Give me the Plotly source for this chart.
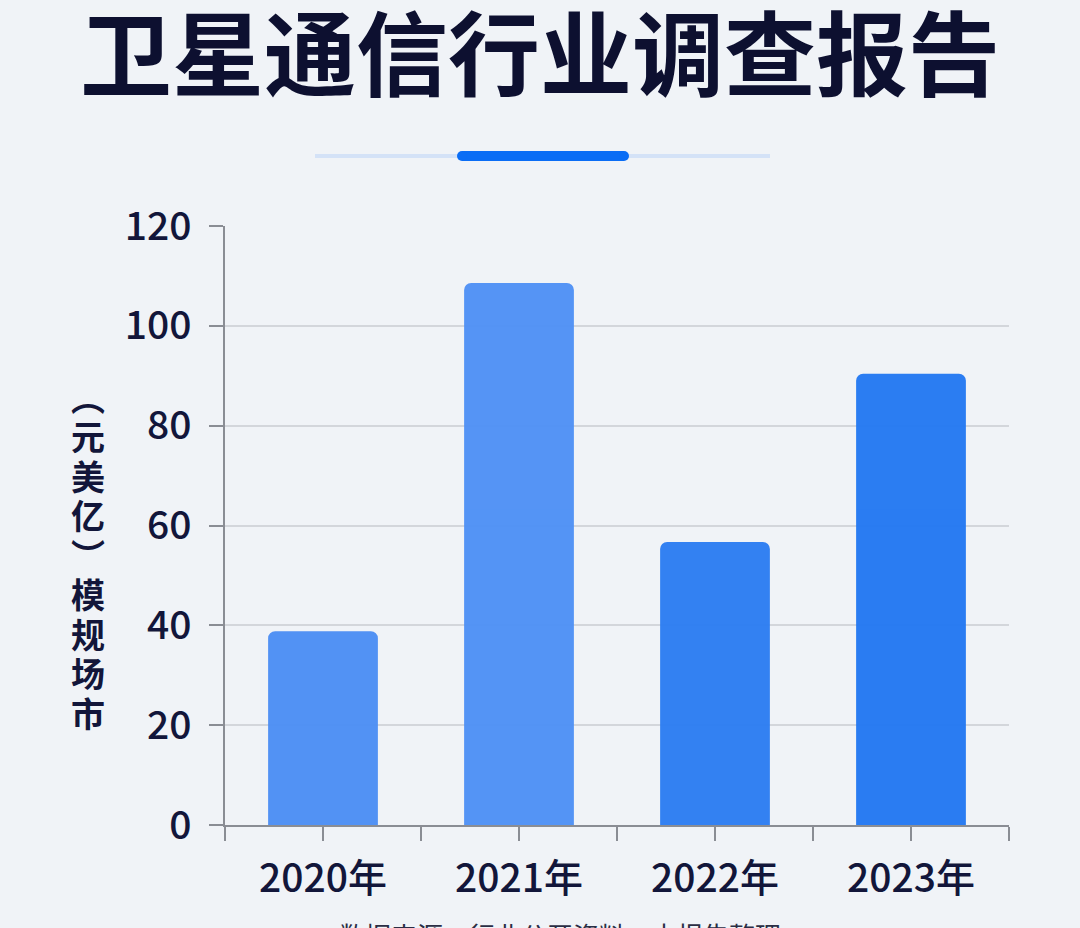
import plotly.graph_objects as go

# chart data
years = ["2020年", "2021年", "2022年", "2023年"]
market_size = [38.8, 108.6, 56.7, 90.4]
bar_colors = ["#4d8ff4", "#4f91f5", "#2d7ef2", "#2479f2"]
y_ticks = [0, 20, 40, 60, 80, 100, 120]
y_title_chars = ["︵", "元", "美", "亿", "︶", "模", "规", "场", "市"]

title_text = "卫星通信行业调查报告"
source_text = "数据来源：行业公开资料，本报告整理"

font_cjk = "Noto Sans CJK SC, Noto Sans, sans-serif"
ink = "#12163a"

# plot area in pixels (left, right, top, bottom)
PL, PR, PT, PB = 225, 1009, 226, 825


def px_x(v):
    return (v - PL) / (PR - PL)


def px_y(v):
    return (PB - v) / (PB - PT)


x_pos = list(range(len(years)))

fig = go.Figure()
fig.add_trace(go.Bar(
    x=x_pos,
    y=market_size,
    width=0.56,
    marker=dict(color=bar_colors, cornerradius=7, line=dict(width=0)),
    opacity=0.97,
    hoverinfo="y",
))

fig.update_layout(
    width=1080,
    height=928,
    paper_bgcolor="#f0f3f7",
    plot_bgcolor="rgba(0,0,0,0)",
    margin=dict(l=PL, r=1080 - PR, t=PT, b=928 - PB),
    showlegend=False,
    font=dict(family=font_cjk, color=ink, size=34),
    title=dict(
        text=f"<b>{title_text}</b>",
        x=0.5, xanchor="center",
        y=1 - 57 / 928, yanchor="middle",
        font=dict(family=font_cjk, size=92, color="#0d1030", weight=900),
    ),
)

axis_gray = "#8a8d94"
fig.update_xaxes(
    range=[-0.5, len(years) - 0.5],
    tickvals=x_pos,
    ticktext=years,
    showline=True, linecolor=axis_gray, linewidth=1.5,
    ticks="outside", ticklen=14, tickcolor=axis_gray, tickwidth=1.5,
    minor=dict(tickvals=[i - 0.5 for i in range(len(years) + 1)],
               ticks="outside", ticklen=14, tickcolor=axis_gray, tickwidth=1.5,
               showgrid=False),
    showgrid=False, zeroline=False,
    tickfont=dict(size=39, color=ink, weight=500),
    ticklabelstandoff=4,
)

fig.update_yaxes(
    range=[0, 120],
    tickvals=y_ticks,
    showline=True, linecolor=axis_gray, linewidth=1.5,
    ticks="outside", ticklen=14, tickcolor=axis_gray, tickwidth=1.5,
    showgrid=True, gridcolor="#d3d6db", gridwidth=1.5,
    zeroline=False,
    tickfont=dict(size=39, color=ink, weight=500),
    ticklabelstandoff=10,
)

# stacked vertical axis title, one glyph per row
for i, ch in enumerate(y_title_chars):
    fig.add_annotation(
        text=ch,
        xref="paper", yref="paper",
        x=px_x(88), y=px_y(396 + i * 39.5),
        xanchor="center", yanchor="middle",
        showarrow=False,
        font=dict(family=font_cjk, size=34, color=ink, weight=700),
    )

# source line, cut off by the bottom edge
fig.add_annotation(
    text=source_text,
    xref="paper", yref="paper",
    x=px_x(560), y=px_y(934),
    xanchor="center", yanchor="middle",
    showarrow=False,
    font=dict(family=font_cjk, size=26, color="#2a2d44"),
)

# decorative divider under the title
fig.add_shape(type="line", xref="paper", yref="paper",
              x0=px_x(315), x1=px_x(770), y0=px_y(156), y1=px_y(156),
              line=dict(color="#d4e2f7", width=4))
fig.add_shape(type="rect", xref="paper", yref="paper",
              x0=px_x(462), x1=px_x(624), y0=px_y(161), y1=px_y(151),
              fillcolor="#0a6df5", line=dict(width=0))
for cx in (462, 624):
    fig.add_shape(type="circle", xref="paper", yref="paper",
                  xsizemode="pixel", ysizemode="pixel",
                  xanchor=px_x(cx), yanchor=px_y(156),
                  x0=-5, x1=5, y0=-5, y1=5,
                  fillcolor="#0a6df5", line=dict(width=0))

fig.write_html("out.html", config={"displayModeBar": False},
               post_script="document.body.style.margin='0';")
